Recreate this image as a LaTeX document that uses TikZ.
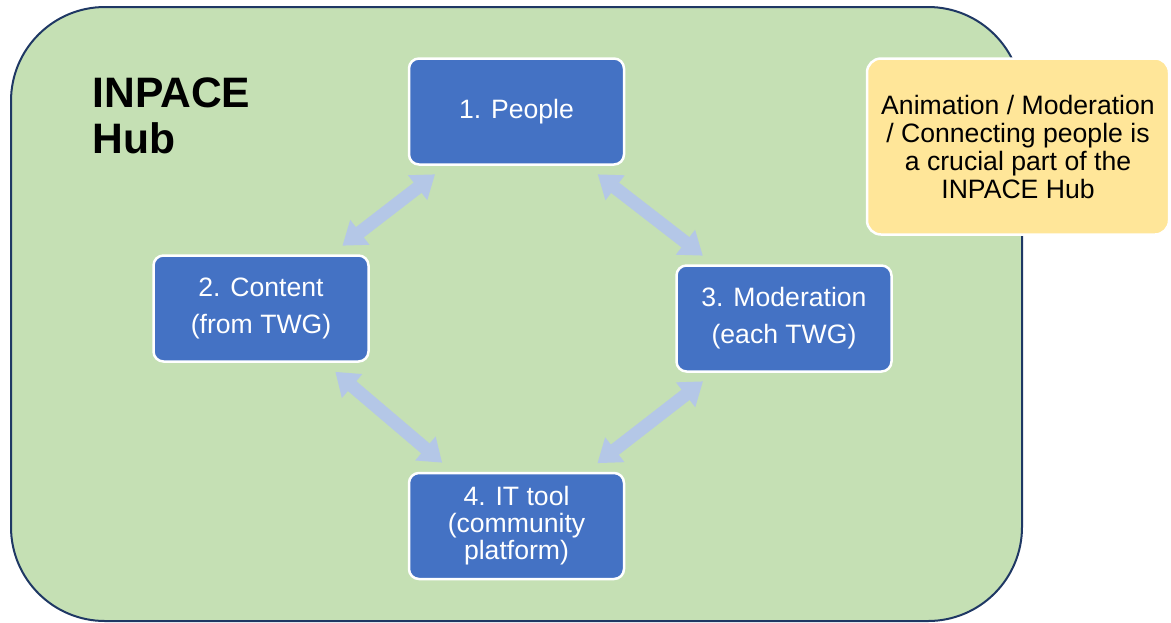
\documentclass[tikz,border=0pt]{standalone}
\usepackage{fontspec}
\setmainfont{Liberation Sans}
\usetikzlibrary{arrows.meta}
\definecolor{hubgreen}{RGB}{197,224,180}
\definecolor{hubnavy}{RGB}{31,56,100}
\definecolor{boxblue}{RGB}{68,114,196}
\definecolor{linkblue}{RGB}{180,199,231}
\definecolor{noteyellow}{RGB}{255,230,153}

\begin{document}
\begin{tikzpicture}[x=0.5pt, y=-0.5pt,
    box/.style={rectangle, rounded corners=5pt, fill=boxblue, draw=white, line width=1.25pt,
      minimum width=107.5pt, minimum height=53pt, inner sep=0pt, text=white, align=center},
    link/.style={draw=linkblue, line width=6.5pt, {Triangle[width=15pt,length=11pt]}-{Triangle[width=15pt,length=11pt]},
      shorten <=7pt, shorten >=7pt}]
      \useasboundingbox (0,0) rectangle (1171,622);

      % hub background
      \draw[fill=hubgreen, draw=hubnavy, line width=1pt, rounded corners=47pt] (11,7) rectangle (1022,621);
      \node[anchor=north west, inner sep=0pt, align=left, font=\bfseries\fontsize{21.3}{23}\selectfont] (hub) at (92,77) {INPACE\\Hub};

      \node[box, font=\fontsize{13.3}{18.5}\selectfont] (1) at (516.5, 111.5) {1. People};
      \node[box, font=\fontsize{13.3}{18.5}\selectfont] (2) at (261, 308.5) {2. Content\\(from TWG)};
      \node[box, font=\fontsize{13.3}{18.5}\selectfont] (3) at (784, 318.5) {3. Moderation\\(each TWG)};
      \node[box, font=\fontsize{13.3}{13.5}\selectfont] (4) at (516.5, 526) {4. IT tool\\(community\\platform)};

      \node[rectangle, rounded corners=7pt, fill=noteyellow, draw=white, line width=1.25pt,
        minimum width=151pt, minimum height=88pt, inner sep=0pt, align=center,
        font=\fontsize{13.3}{14}\selectfont] (note) at (1018, 146.5)
        {Animation / Moderation\\/ Connecting people is\\a crucial part of the\\INPACE Hub};

      \draw[link] (1) -- (2);
      \draw[link] (1) -- (3);
      \draw[link] (2) -- (4);
      \draw[link] (3) -- (4);

    \end{tikzpicture}
\end{document}
